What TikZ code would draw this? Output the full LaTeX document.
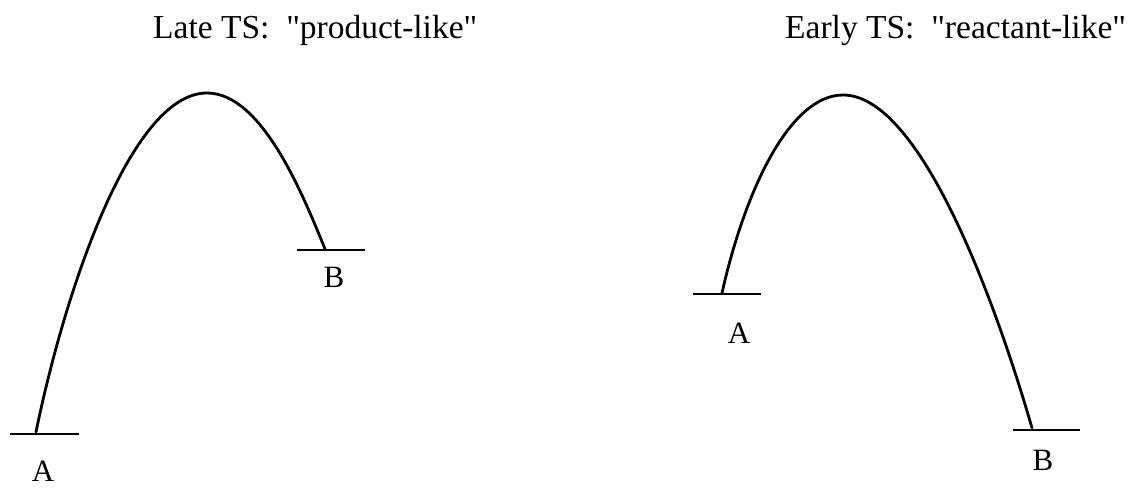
\documentclass[tikz,border=0pt]{standalone}
\usepackage{fontspec}
\setmainfont{Liberation Serif}
\begin{document}
\begin{tikzpicture}[x=1pt,y=-1pt,
  title/.style={inner sep=0pt, anchor=base west, font=\fontsize{33.5}{40}\selectfont},
  lbl/.style={inner sep=0pt, anchor=base, font=\fontsize{31}{36}\selectfont},
  level/.style={line width=2.4pt},
  pes/.style={line width=2.8pt, line cap=round}]
\useasboundingbox (0,0) rectangle (1139,487);
% titles
\node[title] (t1) at (153,38) {Late TS:\ \ \textquotedbl product-like\textquotedbl};
\node[title] (t2) at (785,38) {Early TS:\ \ \textquotedbl reactant-like\textquotedbl};
% left diagram
\coordinate (lA1) at (10,434); \coordinate (lA2) at (79,434);
\coordinate (lB1) at (297,250); \coordinate (lB2) at (365,250);
\coordinate (lAs) at (36,432); \coordinate (lTS) at (207,93); \coordinate (lBe) at (325,249);
\draw[level] (lA1) -- (lA2);
\draw[level] (lB1) -- (lB2);
\draw[pes] (lAs) .. controls (64,295) and (130,93) .. (lTS)
                 .. controls (262,93) and (303,195) .. (lBe);
\node[lbl] (lA) at (43,481) {A};
\node[lbl] (lB) at (334,287) {B};
% right diagram
\coordinate (rA1) at (693,294); \coordinate (rA2) at (761,294);
\coordinate (rB1) at (1013,430); \coordinate (rB2) at (1080,430);
\coordinate (rAs) at (722,293); \coordinate (rTS) at (843,95); \coordinate (rBe) at (1032,428);
\draw[level] (rA1) -- (rA2);
\draw[level] (rB1) -- (rB2);
\draw[pes] (rAs) .. controls (745,190) and (790,95) .. (rTS)
                 .. controls (920,95) and (995,300) .. (rBe);
\node[lbl] (rA) at (739,343) {A};
\node[lbl] (rB) at (1043,470) {B};
\end{tikzpicture}
\end{document}
